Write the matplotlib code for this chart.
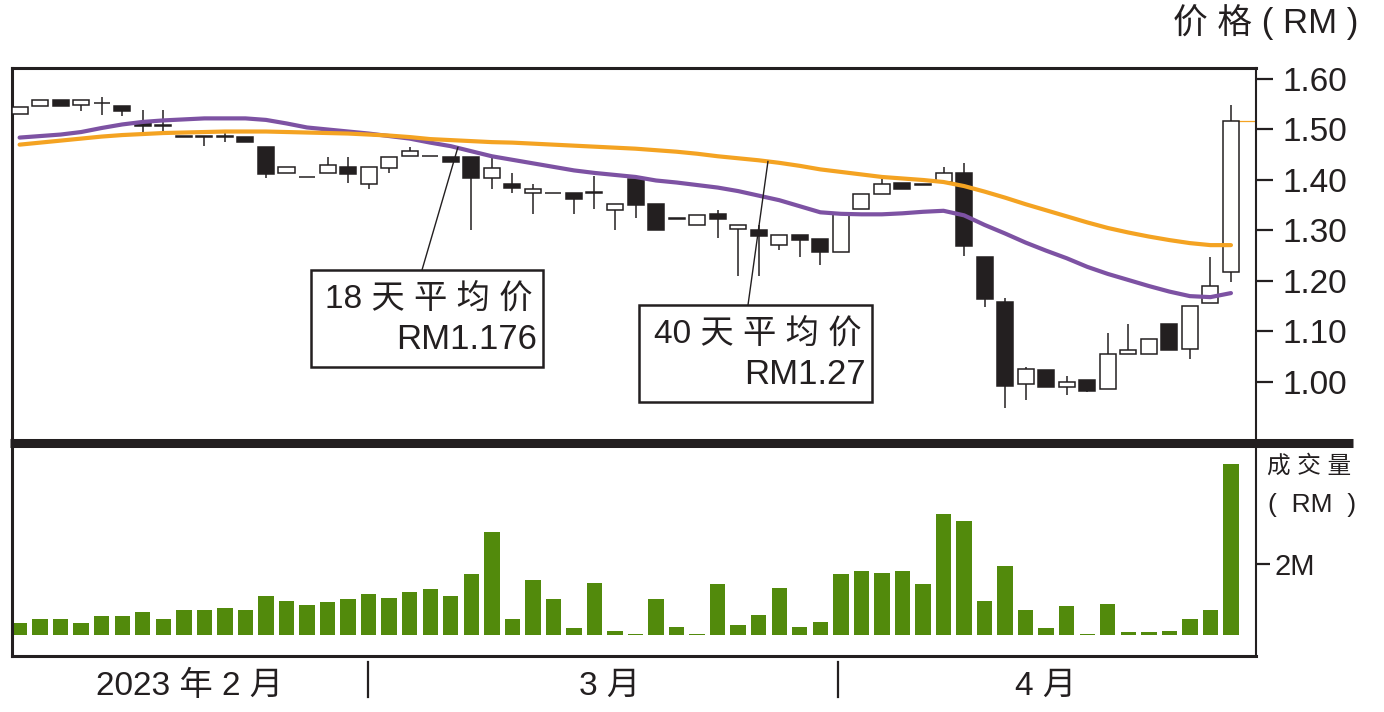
import numpy as np
import matplotlib
matplotlib.use("Agg")
import matplotlib.pyplot as plt
from matplotlib.patches import Rectangle
from matplotlib.lines import Line2D

plt.rcParams['font.family'] = ['Liberation Sans', 'Noto Sans CJK SC', 'DejaVu Sans']

# ---------------- data ----------------
opens = [1.530, 1.546, 1.558, 1.549, 1.552, 1.547, 1.512, 1.507, 1.486, 1.486,
         1.486, 1.486, 1.466, 1.413, 1.405, 1.413, 1.425, 1.392, 1.423, 1.447,
         1.447, 1.446, 1.446, 1.403, 1.393, 1.375, 1.374, 1.374, 1.375, 1.341,
         1.402, 1.352, 1.323, 1.310, 1.333, 1.302, 1.300, 1.271, 1.291, 1.283,
         1.258, 1.342, 1.372, 1.394, 1.390, 1.397, 1.413, 1.248, 1.158, 0.995,
         1.024, 0.990, 1.004, 0.987, 1.056, 1.055, 1.114, 1.065, 1.157, 1.218]
highs = [1.545, 1.558, 1.558, 1.558, 1.565, 1.547, 1.539, 1.539, 1.486, 1.486,
         1.496, 1.486, 1.466, 1.425, 1.405, 1.446, 1.446, 1.425, 1.445, 1.466,
         1.447, 1.446, 1.446, 1.450, 1.413, 1.393, 1.374, 1.374, 1.407, 1.352,
         1.402, 1.352, 1.323, 1.331, 1.341, 1.311, 1.310, 1.291, 1.291, 1.283,
         1.334, 1.372, 1.401, 1.394, 1.390, 1.426, 1.434, 1.248, 1.166, 1.030,
         1.024, 1.012, 1.004, 1.096, 1.115, 1.085, 1.114, 1.150, 1.248, 1.549]
lows = [1.530, 1.546, 1.546, 1.536, 1.529, 1.527, 1.494, 1.494, 1.486, 1.467,
        1.476, 1.476, 1.403, 1.413, 1.405, 1.413, 1.395, 1.382, 1.413, 1.447,
        1.447, 1.435, 1.301, 1.382, 1.374, 1.332, 1.374, 1.332, 1.342, 1.301,
        1.324, 1.301, 1.323, 1.310, 1.285, 1.209, 1.209, 1.261, 1.248, 1.232,
        1.258, 1.342, 1.372, 1.382, 1.390, 1.397, 1.249, 1.148, 0.948, 0.965,
        0.990, 0.974, 0.980, 0.987, 1.056, 1.055, 1.063, 1.045, 1.157, 1.198]
closes = [1.545, 1.558, 1.546, 1.558, 1.552, 1.537, 1.506, 1.507, 1.486, 1.486,
          1.486, 1.476, 1.412, 1.425, 1.405, 1.430, 1.412, 1.425, 1.445, 1.457,
          1.447, 1.435, 1.403, 1.424, 1.384, 1.383, 1.374, 1.363, 1.375, 1.352,
          1.350, 1.301, 1.323, 1.331, 1.322, 1.311, 1.290, 1.291, 1.281, 1.258,
          1.334, 1.372, 1.392, 1.382, 1.390, 1.413, 1.270, 1.164, 0.991, 1.025,
          0.990, 1.000, 0.983, 1.055, 1.064, 1.085, 1.063, 1.150, 1.190, 1.517]

ma18 = [1.484, 1.487, 1.490, 1.495, 1.503, 1.510, 1.515, 1.518, 1.520, 1.522,
        1.522, 1.522, 1.519, 1.512, 1.504, 1.500, 1.496, 1.492, 1.487, 1.482,
        1.474, 1.467, 1.457, 1.447, 1.440, 1.433, 1.426, 1.419, 1.414, 1.410,
        1.406, 1.399, 1.395, 1.390, 1.385, 1.378, 1.369, 1.360, 1.348, 1.336,
        1.333, 1.332, 1.332, 1.334, 1.337, 1.339, 1.330, 1.311, 1.294, 1.276,
        1.260, 1.245, 1.228, 1.214, 1.202, 1.190, 1.179, 1.170, 1.168, 1.176]
ma40 = [1.470, 1.474, 1.478, 1.482, 1.486, 1.489, 1.491, 1.493, 1.494, 1.495,
        1.496, 1.496, 1.496, 1.495, 1.494, 1.493, 1.492, 1.490, 1.488, 1.485,
        1.481, 1.479, 1.477, 1.475, 1.474, 1.472, 1.470, 1.468, 1.466, 1.464,
        1.462, 1.459, 1.456, 1.452, 1.447, 1.443, 1.439, 1.434, 1.428, 1.421,
        1.416, 1.411, 1.406, 1.403, 1.400, 1.396, 1.388, 1.377, 1.365, 1.352,
        1.340, 1.328, 1.316, 1.305, 1.296, 1.288, 1.281, 1.275, 1.271, 1.271]

volume_m = [0.34, 0.46, 0.46, 0.34, 0.52, 0.52, 0.64, 0.46, 0.70, 0.70,
            0.76, 0.70, 1.08, 0.96, 0.84, 0.92, 1.00, 1.16, 1.04, 1.20,
            1.30, 1.08, 1.70, 2.90, 0.46, 1.54, 1.00, 0.19, 1.46, 0.10,
            0.03, 1.02, 0.23, 0.03, 1.42, 0.28, 0.56, 1.33, 0.23, 0.35,
            1.70, 1.78, 1.74, 1.78, 1.42, 3.38, 3.20, 0.96, 1.94, 0.70,
            0.19, 0.80, 0.03, 0.88, 0.07, 0.07, 0.10, 0.46, 0.70, 4.78]

price_ticks = [1.00, 1.10, 1.20, 1.30, 1.40, 1.50, 1.60]
price_tick_labels = ['1.00', '1.10', '1.20', '1.30', '1.40', '1.50', '1.60']
vol_ticks = [2]
vol_tick_labels = ['2M']
month_labels = ['2023 年 2 月', '3 月', '4 月']
month_label_pos = [8.3, 28.75, 49.95]
month_sep_pos = [16.95, 39.85]
ma18_label = ['18 天 平 均 价', 'RM1.176']
ma40_label = ['40 天 平 均 价', 'RM1.27']

# ---------------- style ----------------
W, H = 1384, 712
DARK = '#231f20'
PURPLE = '#7d52a3'
ORANGE = '#f4a322'
GREEN = '#528a0c'

fig = plt.figure(figsize=(W / 100, H / 100), dpi=100)
fig.patch.set_facecolor('white')

def fx(px):
    return px / W

def fy(py):
    return 1 - py / H

x0, x1 = fx(12), fx(1256)
ax = fig.add_axes([x0, fy(438), x1 - x0, fy(68) - fy(438)])
axv = fig.add_axes([x0, fy(656), x1 - x0, fy(447) - fy(656)])

n = len(opens)
idx = np.arange(n)
o = np.array(opens); c = np.array(closes)
hi = np.array(highs); lo = np.array(lows)

xlim = (-0.37, 60.22)

# wicks
ax.vlines(idx, lo, hi, color=DARK, lw=1.1, zorder=2)
# bodies
up = c >= o
bottoms = np.minimum(o, c)
heights = np.maximum(np.abs(c - o), 0.0012)
ax.bar(idx, heights, bottom=bottoms, width=0.78,
       color=np.where(up, 'white', DARK), edgecolor=DARK, linewidth=1.1, zorder=3)

# moving averages
ax.plot(idx, ma18, color=PURPLE, lw=3.0, zorder=4, solid_capstyle='round')
ax.plot(idx, ma40, color=ORANGE, lw=3.0, zorder=4, solid_capstyle='round')
# last price marker
ax.hlines(closes[-1], n - 1, xlim[1], color=ORANGE, lw=0.9, zorder=1)

ax.set_xlim(*xlim)
ax.set_ylim(0.889, 1.6218)
ax.set_xticks([])
ax.yaxis.tick_right()
ax.set_yticks(price_ticks)
ax.set_yticklabels(price_tick_labels)
ax.tick_params(axis='y', direction='out', length=12, width=1.6, pad=7,
               labelsize=24, colors=DARK)
for s in ['top', 'left']:
    ax.spines[s].set_linewidth(2.2)
ax.spines['right'].set_linewidth(1.5)
ax.spines['bottom'].set_visible(False)
for s in ax.spines.values():
    s.set_color(DARK)

# volume
axv.bar(idx, volume_m, width=0.75, color=GREEN, zorder=2)
axv.set_xlim(*xlim)
axv.set_ylim(-0.59, 5.27)
axv.set_xticks([])
axv.yaxis.tick_right()
axv.set_yticks(vol_ticks)
axv.set_yticklabels(vol_tick_labels)
axv.tick_params(axis='y', direction='out', length=10, width=1.6, pad=3,
                labelsize=21, colors=DARK)
axv.spines['top'].set_visible(False)
axv.spines['left'].set_linewidth(2.2)
axv.spines['bottom'].set_linewidth(2.2)
axv.spines['right'].set_linewidth(1.5)
for s in axv.spines.values():
    s.set_color(DARK)

# thick separator
fig.add_artist(Line2D([fx(10), fx(1353)], [fy(442.5), fy(442.5)],
                      color=DARK, lw=6.5, solid_capstyle='butt'))

# titles
fig.text(fx(1358), fy(22), '价 格 ( RM )', ha='right', va='center',
         fontsize=25, color=DARK)
fig.text(fx(1267), fy(466), '成 交 量', ha='left', va='center',
         fontsize=17, color=DARK)
fig.text(fx(1268), fy(505), '(  RM  )', ha='left', va='center',
         fontsize=19, color=DARK)

# month labels and separators
vol_h = fy(447) - fy(656)
for lab, pos in zip(month_labels, month_label_pos):
    axv.text(pos, (fy(686) - fy(656)) / vol_h, lab,
             transform=axv.get_xaxis_transform(),
             ha='center', va='center', fontsize=24, color=DARK)
for pos in month_sep_pos:
    axv.plot([pos, pos], [(fy(662) - fy(656)) / vol_h,
                          (fy(697) - fy(656)) / vol_h],
             transform=axv.get_xaxis_transform(), color=DARK, lw=1.6,
             clip_on=False)

# annotation boxes
def label_box(left, top, right, bottom, lines, anchor_px, target):
    fig.add_artist(Rectangle((fx(left), fy(bottom)), fx(right) - fx(left),
                             fy(top) - fy(bottom), transform=fig.transFigure,
                             facecolor='white', edgecolor=DARK, lw=1.8, zorder=5))
    fig.text(fx(right - 10), fy(top + (bottom - top) * 0.30), lines[0],
             ha='right', va='center', fontsize=24, color=DARK, zorder=6)
    fig.text(fx(right - 6), fy(top + (bottom - top) * 0.72), lines[1],
             ha='right', va='center', fontsize=25, color=DARK, zorder=6)
    ax.annotate('', xy=target, xycoords='data',
                xytext=(fx(anchor_px[0]), fy(anchor_px[1])),
                textcoords='figure fraction',
                arrowprops=dict(arrowstyle='-', color=DARK, lw=1.0,
                                shrinkA=0, shrinkB=0), zorder=4)

label_box(311, 270, 543, 367, ma18_label, (422, 270), (21.35, ma18[21] - 0.002))
label_box(639, 305, 872, 402, ma40_label, (748, 305), (36.45, ma40[36] - 0.002))

fig.savefig('out.png', dpi=100, facecolor='white')
